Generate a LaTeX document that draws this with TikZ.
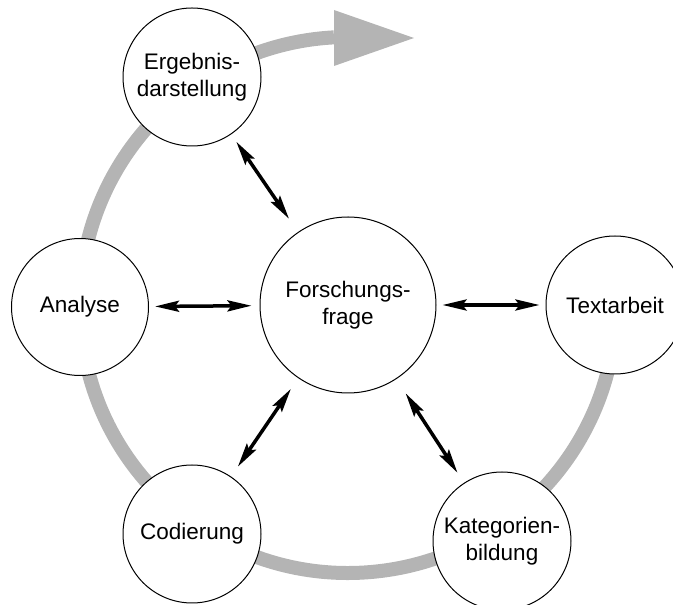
\documentclass[tikz,border=0pt]{standalone}
\usepackage{fontspec}
\setmainfont{Liberation Sans}
\usetikzlibrary{arrows.meta}
\definecolor{ringgray}{RGB}{180,180,180}
\tikzset{
  stage/.style={circle, draw=black, line width=1pt, fill=white, inner sep=0pt,
    align=center, font=\fontsize{22.5}{27}\selectfont},
  tipx/.tip={Stealth[length=24pt,width=11pt,inset=4pt]},
  link/.style={line width=3.5pt, tipx-tipx},
  ring/.style={line width=14pt, draw=ringgray, line cap=butt}
}
\begin{document}
\begin{tikzpicture}[x=1pt,y=1pt]
\useasboundingbox (0,0) rectangle (673,605);
\coordinate (rc) at (348,300);
% gray cycle ring
\draw[ring] (rc) ++(5:268) arc[start angle=5, end angle=-267, radius=268];
\fill[ringgray] (334,595) -- (414,567) -- (334,539) -- cycle;
% nodes
\node[stage, minimum size=176pt] (ff) at (348,300) {Forschungs-\\frage};
\node[stage, minimum size=138pt] (erg) at (192,528) {Ergebnis-\\darstellung};
\node[stage, minimum size=137pt] (ana) at (80,298) {Analyse};
\node[stage, minimum size=138pt] (txt) at (615,300) {Textarbeit};
\node[stage, minimum size=138pt] (cod) at (192,71) {Codierung};
\node[stage, minimum size=138pt] (kat) at (502,64) {Kategorien-\\bildung};
% links
\draw[link, shorten <=9pt, shorten >=16pt] (erg) -- (ff);
\draw[link, shorten <=6pt, shorten >=8pt] (ana) -- (ff);
\draw[link, shorten <=6pt, shorten >=6pt] (ff) -- (txt);
\draw[link, shorten <=12pt, shorten >=13pt] (cod) -- (ff);
\draw[link, shorten <=12pt, shorten >=17pt] (kat) -- (ff);
\end{tikzpicture}
\end{document}
